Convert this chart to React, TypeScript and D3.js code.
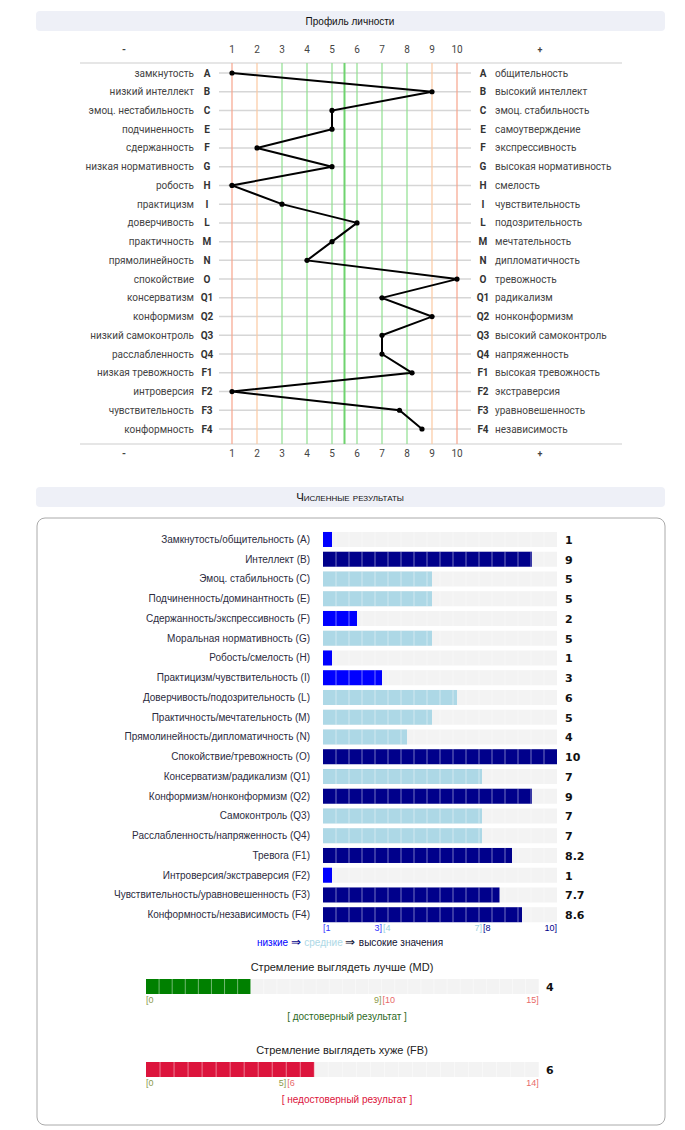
import React, { useEffect, useRef } from 'react';
import * as d3 from 'd3';

// 16PF factors
const factors = ['A', 'B', 'C', 'E', 'F', 'G', 'H', 'I', 'L', 'M', 'N', 'O', 'Q1', 'Q2', 'Q3', 'Q4', 'F1', 'F2', 'F3', 'F4'];
const lowPoles = ['замкнутость', 'низкий интеллект', 'эмоц. нестабильность', 'подчиненность', 'сдержанность', 'низкая нормативность', 'робость', 'практицизм', 'доверчивость', 'практичность', 'прямолинейность', 'спокойствие', 'консерватизм', 'конформизм', 'низкий самоконтроль', 'расслабленность', 'низкая тревожность', 'интроверсия', 'чувствительность', 'конформность'];
const highPoles = ['общительность', 'высокий интеллект', 'эмоц. стабильность', 'самоутверждение', 'экспрессивность', 'высокая нормативность', 'смелость', 'чувствительность', 'подозрительность', 'мечтательность', 'дипломатичность', 'тревожность', 'радикализм', 'нонконформизм', 'высокий самоконтроль', 'напряженность', 'высокая тревожность', 'экстраверсия', 'уравновешенность', 'независимость'];
const scaleNames = ['Замкнутость/общительность (A)', 'Интеллект (B)', 'Эмоц. стабильность (C)', 'Подчиненность/доминантность (E)', 'Сдержанность/экспрессивность (F)', 'Моральная нормативность (G)', 'Робость/смелость (H)', 'Практицизм/чувствительность (I)', 'Доверчивость/подозрительность (L)', 'Практичность/мечтательность (M)', 'Прямолинейность/дипломатичность (N)', 'Спокойствие/тревожность (O)', 'Консерватизм/радикализм (Q1)', 'Конформизм/нонконформизм (Q2)', 'Самоконтроль (Q3)', 'Расслабленность/напряженность (Q4)', 'Тревога (F1)', 'Интроверсия/экстраверсия (F2)', 'Чувствительность/уравновешенность (F3)', 'Конформность/независимость (F4)'];
const scores = [1, 9, 5, 5, 2, 5, 1, 3, 6, 5, 4, 10, 7, 9, 7, 7, 8.2, 1, 7.7, 8.6];
const stenTicks = [1, 2, 3, 4, 5, 6, 7, 8, 9, 10];

// validity scales
const mdScore = 4;
const mdMax = 15;
const mdLimit = 9;
const fbScore = 6;
const fbMax = 14;
const fbLimit = 5;

const LABEL_FONT = 'Roboto, "Liberation Sans", sans-serif';
const BAR_FONT = '"Liberation Sans", Arial, sans-serif';

const lineColor = (v: number) => {
  if (v === 1 || v === 10) return '#f7a48c';
  if (v === 2 || v === 9) return '#fbc9a2';
  return '#8fe08f';
};

const barColor = (v: number) => {
  if (v <= 3) return '#0000ff';
  if (v <= 7) return '#add8e6';
  return '#00008b';
};

const App: React.FC = () => {
  const ref = useRef<SVGSVGElement>(null);

  useEffect(() => {
    if (!ref.current) return;
    const svg = d3.select(ref.current);
    svg.selectAll('*').remove();

    // section headers
    const header = (y: number, title: string, smallCaps: boolean) => {
      svg.append('rect')
        .attr('x', 36).attr('y', y).attr('width', 629).attr('height', 20)
        .attr('rx', 4).attr('fill', '#eef0f7');
      svg.append('text')
        .attr('x', 350).attr('y', y + 14)
        .attr('text-anchor', 'middle')
        .style('font-family', smallCaps ? BAR_FONT : '"Liberation Sans Narrow", "Liberation Sans", sans-serif')
        .style('font-size', smallCaps ? '11.5px' : '10px')
        .style('font-variant', smallCaps ? 'small-caps' : 'normal')
        .style('fill', '#111')
        .text(title);
    };
    header(11, 'Профиль личности', false);
    header(487, 'Численные результаты', true);

    // ---- profile chart ----
    const x = d3.scaleLinear().domain([1, 10]).range([232, 457]);
    const y = d3.scalePoint<string>().domain(factors).range([73, 429]);
    const top = 63;
    const bottom = 444;

    const prof = svg.append('g');

    // separator lines
    [top, bottom].forEach(yy => {
      prof.append('line')
        .attr('x1', 80).attr('x2', 622).attr('y1', yy).attr('y2', yy)
        .attr('stroke', '#e6e6e6').attr('stroke-width', 2);
    });

    // horizontal row lines
    prof.selectAll('.hline')
      .data(factors)
      .enter()
      .append('line')
      .attr('x1', 219).attr('x2', 471)
      .attr('y1', d => y(d)!).attr('y2', d => y(d)!)
      .attr('stroke', '#d6d6d6').attr('stroke-width', 1.5);

    // vertical sten lines
    prof.selectAll('.vline')
      .data(stenTicks)
      .enter()
      .append('line')
      .attr('x1', d => x(d)).attr('x2', d => x(d))
      .attr('y1', top).attr('y2', bottom)
      .attr('stroke', d => lineColor(d)).attr('stroke-width', 1.2);

    prof.append('line')
      .attr('x1', x(5.5)).attr('x2', x(5.5))
      .attr('y1', top).attr('y2', bottom)
      .attr('stroke', '#6fd36f').attr('stroke-width', 2);

    // tick labels top and bottom
    [53, 457].forEach(ty => {
      prof.selectAll(null)
        .data(stenTicks)
        .enter()
        .append('text')
        .attr('x', d => x(d)).attr('y', ty)
        .attr('text-anchor', 'middle')
        .style('font-family', LABEL_FONT).style('font-size', '10px').style('fill', '#444')
        .text(d => d);
      prof.append('text')
        .attr('x', 124).attr('y', ty)
        .attr('text-anchor', 'middle')
        .style('font-family', LABEL_FONT).style('font-size', '10px').style('font-weight', 'bold').style('fill', '#444')
        .text('-');
      prof.append('text')
        .attr('x', 540).attr('y', ty)
        .attr('text-anchor', 'middle')
        .style('font-family', LABEL_FONT).style('font-size', '9px').style('font-weight', 'bold').style('fill', '#444')
        .text('+');
    });

    // pole labels
    factors.forEach((f, i) => {
      const yy = y(f)! + 3.5;
      prof.append('text')
        .attr('x', 194).attr('y', yy).attr('text-anchor', 'end')
        .style('font-family', LABEL_FONT).style('font-size', '10px').style('fill', '#444')
        .text(lowPoles[i]);
      prof.append('text')
        .attr('x', 207).attr('y', yy).attr('text-anchor', 'middle')
        .style('font-family', LABEL_FONT).style('font-size', '10px').style('font-weight', 'bold').style('fill', '#333')
        .text(f);
      prof.append('text')
        .attr('x', 483).attr('y', yy).attr('text-anchor', 'middle')
        .style('font-family', LABEL_FONT).style('font-size', '10px').style('font-weight', 'bold').style('fill', '#333')
        .text(f);
      prof.append('text')
        .attr('x', 495).attr('y', yy)
        .style('font-family', LABEL_FONT).style('font-size', '10px').style('fill', '#444')
        .text(highPoles[i]);
    });

    // profile line
    const line = d3.line<number>()
      .x(d => x(d))
      .y((d, i) => y(factors[i])!);
    prof.append('path')
      .datum(scores)
      .attr('d', line)
      .attr('fill', 'none')
      .attr('stroke', '#000')
      .attr('stroke-width', 2);
    prof.selectAll('.dot')
      .data(scores)
      .enter()
      .append('circle')
      .attr('cx', d => x(d))
      .attr('cy', (d, i) => y(factors[i])!)
      .attr('r', 2.6)
      .attr('fill', '#000');

    // ---- numerical results ----
    svg.append('rect')
      .attr('x', 37).attr('y', 518).attr('width', 628).attr('height', 607)
      .attr('rx', 8).attr('fill', 'none').attr('stroke', '#aaa').attr('stroke-width', 1);

    const trackL = 323;
    const trackR = 557;
    const bx = d3.scaleLinear().domain([0.64, 10]).range([trackL, trackR]);
    const by = d3.scaleBand<string>().domain(factors).range([529.6, 924.6]).paddingInner(0.24).paddingOuter(0.12);

    const drawCells = (g: d3.Selection<SVGGElement, unknown, null, undefined>, x0: number, x1: number, yy: number, h: number, n: number) => {
      const w = (x1 - x0) / n;
      d3.range(1, n).forEach(k => {
        g.append('line')
          .attr('x1', x0 + k * w).attr('x2', x0 + k * w)
          .attr('y1', yy).attr('y2', yy + h)
          .attr('stroke', '#fff').attr('stroke-opacity', 0.45).attr('stroke-width', 1);
      });
    };

    factors.forEach((f, i) => {
      const g = svg.append('g');
      const yy = by(f)!;
      const h = by.bandwidth();
      g.append('rect')
        .attr('x', trackL).attr('y', yy).attr('width', trackR - trackL).attr('height', h)
        .attr('fill', '#f3f3f3');
      g.append('rect')
        .attr('x', trackL).attr('y', yy).attr('width', bx(scores[i]) - trackL).attr('height', h)
        .attr('fill', barColor(scores[i]));
      drawCells(g, trackL, trackR, yy, h, 18);
      g.append('text')
        .attr('x', 310).attr('y', yy + h / 2 + 3.5).attr('text-anchor', 'end')
        .style('font-family', BAR_FONT).style('font-size', '10px').style('fill', '#2b2b40')
        .text(scaleNames[i]);
      g.append('text')
        .attr('x', 565).attr('y', yy + h / 2 + 4.5)
        .style('font-family', '"DejaVu Sans", sans-serif').style('font-size', '11px').style('font-weight', 'bold').style('fill', '#111')
        .text(String(scores[i]));
    });

    // sten range ticks
    const tickY = 931;
    const tick = (tx: number, anchor: string, txt: string, color: string, ty: number) => {
      svg.append('text')
        .attr('x', tx).attr('y', ty).attr('text-anchor', anchor)
        .style('font-family', BAR_FONT).style('font-size', '9px').style('fill', color)
        .text(txt);
    };
    tick(trackL, 'start', '[1', '#3333ff', tickY);
    tick(bx(3), 'end', '3]', '#3333ff', tickY);
    tick(bx(3) + 1, 'start', '[4', '#9ccfe0', tickY);
    tick(bx(7), 'end', '7]', '#9ccfe0', tickY);
    tick(bx(7) + 1, 'start', '[8', '#00008b', tickY);
    tick(bx(10), 'end', '10]', '#00008b', tickY);

    const legend = svg.append('text')
      .attr('x', 350).attr('y', 946).attr('text-anchor', 'middle')
      .style('font-family', BAR_FONT).style('font-size', '10px');
    legend.append('tspan').style('fill', '#0000ff').text('низкие ');
    legend.append('tspan').style('fill', '#00008b').style('font-size', '12px').text('⇒ ');
    legend.append('tspan').style('fill', '#add8e6').text('средние ');
    legend.append('tspan').style('fill', '#111133').style('font-size', '12px').text('⇒ ');
    legend.append('tspan').style('fill', '#111133').text('высокие значения');

    // validity scales
    const validity = (title: string, score: number, max: number, limit: number, yTop: number, color: string, verdict: string, verdictColor: string) => {
      const vx = d3.scaleLinear().domain([0, max]).range([146, 538.7]);
      const g = svg.append('g');
      g.append('text')
        .attr('x', 342).attr('y', yTop - 8).attr('text-anchor', 'middle')
        .style('font-family', BAR_FONT).style('font-size', '11px').style('fill', '#222')
        .text(title);
      g.append('rect')
        .attr('x', vx(0)).attr('y', yTop).attr('width', vx(max) - vx(0)).attr('height', 15)
        .attr('fill', '#f3f3f3');
      g.append('rect')
        .attr('x', vx(0)).attr('y', yTop).attr('width', vx(score) - vx(0)).attr('height', 15)
        .attr('fill', color);
      drawCells(g, vx(0), vx(max), yTop, 15, max * 2);
      g.append('text')
        .attr('x', 546).attr('y', yTop + 12)
        .style('font-family', '"DejaVu Sans", sans-serif').style('font-size', '11px').style('font-weight', 'bold').style('fill', '#111')
        .text(String(score));
      const ty = yTop + 24;
      tick(vx(0), 'start', '[0', '#8c9a4c', ty);
      tick(vx(limit), 'end', `${limit}]`, '#8c9a4c', ty);
      tick(vx(limit) + 1, 'start', `[${limit + 1}`, '#e86a6a', ty);
      tick(vx(max), 'end', `${max}]`, '#e86a6a', ty);
      g.append('text')
        .attr('x', 347).attr('y', yTop + 41).attr('text-anchor', 'middle')
        .style('font-family', BAR_FONT).style('font-size', '10px').style('fill', verdictColor)
        .text(verdict);
    };
    validity('Стремление выглядеть лучше (MD)', mdScore, mdMax, mdLimit, 979, '#008000', '[ достоверный результат ]', '#2f6b1f');
    validity('Стремление выглядеть хуже (FB)', fbScore, fbMax, fbLimit, 1062, '#dc143c', '[ недостоверный результат ]', '#dc143c');
  }, []);

  return (
    <svg
      ref={ref}
      width={685}
      height={1130}
      style={{ position: 'absolute', left: 0, top: 0, background: '#fff' }}
    />
  );
};

export default App;
